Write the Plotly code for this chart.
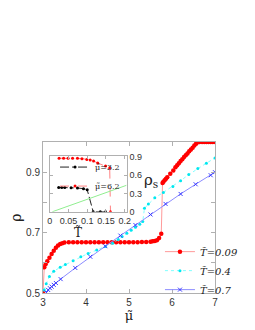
import plotly.graph_objects as go

# ---- main panel data: rho vs mu~ ----
mu_t009 = [3.00, 3.03, 3.06, 3.10, 3.15, 3.20, 3.25, 3.30, 3.35, 3.40, 3.45, 3.50,
           3.60, 3.70, 3.80, 3.90, 4.00, 4.10, 4.20, 4.30, 4.40, 4.50, 4.60, 4.70,
           4.80, 4.90, 5.00, 5.10, 5.20, 5.30, 5.40, 5.50, 5.55, 5.60, 5.65, 5.70, 5.75,
           5.78, 5.80, 5.83, 5.86, 5.89, 5.96, 6.03, 6.08, 6.12, 6.16, 6.20, 6.24,
           6.28, 6.32, 6.36, 6.40, 6.44, 6.48, 6.52, 6.56, 6.60, 6.64, 6.70, 6.75,
           6.80, 6.85, 6.90, 6.95, 7.00]
rho_t009 = [0.500, 0.585, 0.595, 0.605, 0.617, 0.629, 0.640, 0.650, 0.657, 0.662, 0.665, 0.667,
            0.668, 0.668, 0.668, 0.668, 0.668, 0.668, 0.668, 0.668, 0.668, 0.668, 0.668, 0.668,
            0.668, 0.668, 0.668, 0.668, 0.668, 0.669, 0.669, 0.670, 0.671, 0.672, 0.675, 0.682, 0.696,
            0.864, 0.868, 0.873, 0.878, 0.883, 0.895, 0.906, 0.916, 0.923, 0.930, 0.937, 0.943,
            0.950, 0.956, 0.962, 0.969, 0.975, 0.981, 0.988, 0.994, 0.999, 1.000, 1.000, 1.000,
            1.000, 1.000, 1.000, 1.000, 1.000]

mu_t04 = [3.03, 3.075, 3.15, 3.25, 3.40, 3.52, 3.70, 3.88, 4.05, 4.25, 4.45, 4.62, 4.75,
          4.84, 4.95, 5.05, 5.15, 5.25, 5.32, 5.36, 5.45, 5.60, 5.80, 6.02, 6.20, 6.39,
          6.60, 6.80, 7.00]
rho_t04 = [0.510, 0.531, 0.555, 0.572, 0.585, 0.594, 0.607, 0.620, 0.631, 0.642, 0.654, 0.665, 0.677,
           0.687, 0.698, 0.708, 0.718, 0.728, 0.737, 0.781, 0.795, 0.815, 0.833, 0.853, 0.872, 0.892,
           0.912, 0.930, 0.947]

mu_t07 = [3.08, 3.12, 3.16, 3.20, 3.25, 3.30, 3.41, 3.75, 4.10, 4.45, 4.80, 5.15, 5.50,
          5.85, 6.20, 6.55, 6.90, 7.00]
rho_t07 = [0.502, 0.510, 0.516, 0.521, 0.527, 0.533, 0.546, 0.583, 0.620, 0.655, 0.690, 0.725,
           0.760, 0.795, 0.828, 0.860, 0.890, 0.900]

# ---- inset data: rho_s vs T~ ----
T_mu62 = [0.025, 0.037, 0.049, 0.061, 0.074, 0.086, 0.099, 0.108, 0.117, 0.128, 0.149, 0.160, 0.162]
rs_mu62 = [0.880, 0.880, 0.880, 0.880, 0.878, 0.872, 0.860, 0.850, 0.835, 0.800, 0.750, 0.720, 0.0]

T_mu32 = [0.024, 0.032, 0.040, 0.057, 0.074, 0.090, 0.100, 0.116, 0.135, 0.149]
rs_mu32 = [0.400, 0.400, 0.398, 0.395, 0.390, 0.380, 0.360, 0.0, 0.0, 0.0]

T_kt = [0.007, 0.205]
rs_kt = [0.0, 0.435]

main_xticks = [3, 4, 5, 6, 7]
main_yticks = [0.5, 0.7, 0.9]
inset_xticks = [0, 0.05, 0.1, 0.15, 0.2]
inset_xticktext = ["0", "0.05", "0.1", "0.15", "0.2"]
inset_yticks = [0, 0.3, 0.6, 0.9]
inset_yticktext = ["0", "0.3", "0.6", "0.9"]

serif = "DejaVu Serif"
sans = "Liberation Sans"

fig = go.Figure()

fig.add_trace(go.Scatter(x=mu_t009, y=rho_t009, mode="lines+markers",
                         line=dict(color="#ff9a9a", width=1),
                         marker=dict(color="#ff0000", size=4.5, symbol="circle"),
                         name="<i>T\u0303=0.09</i>", legend="legend"))
fig.add_trace(go.Scatter(x=mu_t04, y=rho_t04, mode="lines+markers",
                         line=dict(color="#7fffff", width=1, dash="dot"),
                         marker=dict(color="#00e8f0", size=3, symbol="circle"),
                         name="<i>T\u0303=0.4</i>", legend="legend"))
fig.add_trace(go.Scatter(x=mu_t07, y=rho_t07, mode="lines+markers",
                         line=dict(color="#8c8cff", width=1),
                         marker=dict(color="#3c3cff", size=4, symbol="x-thin",
                                     line=dict(color="#3c3cff", width=1)),
                         name="<i>T\u0303=0.7</i>", legend="legend"))

fig.add_trace(go.Scatter(x=T_mu32, y=rs_mu32, mode="lines+markers", xaxis="x2", yaxis="y2",
                         line=dict(color="#222222", width=1, dash="dashdot"),
                         marker=dict(color="#000000", size=3),
                         name="\u03bc\u0303=3.2", legend="legend2"))
fig.add_trace(go.Scatter(x=T_mu62, y=rs_mu62, mode="lines+markers", xaxis="x2", yaxis="y2",
                         line=dict(color="#ff8080", width=1, dash="dash"),
                         marker=dict(color="#ff0000", size=3),
                         name="\u03bc\u0303=6.2", legend="legend2"))
fig.add_trace(go.Scatter(x=T_kt, y=rs_kt, mode="lines", xaxis="x2", yaxis="y2",
                         line=dict(color="#90ee90", width=1),
                         showlegend=False))

axis_common = dict(showline=True, linecolor="#b0b0b0", linewidth=1, mirror="ticks",
                   ticks="inside", ticklen=4, tickcolor="#b0b0b0", showgrid=False,
                   zeroline=False, automargin=False,
                   tickfont=dict(family=sans, size=10, color="#333333"))
inset_axis = {**axis_common, "tickfont": dict(family=sans, size=9, color="#333333"),
              "ticklen": 3}

# the page body adds an 8px offset, so the figure is a bit smaller than the window
fig.update_layout(
    width=247, height=322,
    margin=dict(l=35, r=31, t=134, b=37),
    paper_bgcolor="white", plot_bgcolor="white",
    xaxis=dict(range=[3, 7], tickvals=main_xticks, domain=[0, 1],
               title=dict(text="\u03bc\u0303", font=dict(family=serif, size=13, color="#222"),
                          standoff=0),
               **axis_common),
    yaxis=dict(range=[0.5, 1.0], tickvals=main_yticks, domain=[0, 1],
               minor=dict(ticks="inside", dtick=0.1, ticklen=4, tickcolor="#b0b0b0",
                          showgrid=False),
               title=dict(text="\u03c1", font=dict(family=serif, size=14, color="#222"),
                          standoff=6),
               **axis_common),
    xaxis2=dict(range=[0, 0.205], tickvals=inset_xticks, ticktext=inset_xticktext,
                domain=[0.039, 0.486], anchor="y2", **inset_axis),
    yaxis2=dict(range=[0, 0.91], tickvals=inset_yticks, ticktext=inset_yticktext,
                domain=[0.538, 0.905], anchor="x2", side="right", **inset_axis),
    legend=dict(x=0.68, y=0.37, xanchor="left", yanchor="top", bgcolor="rgba(0,0,0,0)",
                font=dict(family=serif, size=10, color="#222"), tracegroupgap=0,
                itemwidth=30),
    legend2=dict(x=0.07, y=0.93, xanchor="left", yanchor="top", bgcolor="rgba(0,0,0,0)",
                 font=dict(family=serif, size=8, color="#222"), tracegroupgap=0,
                 itemwidth=30),
    annotations=[
        dict(text="T\u0303", xref="paper", yref="paper", x=(74 - 43) / 181, y=(292.7 - 233) / 150,
             showarrow=False, font=dict(family=serif, size=12, color="#222")),
        dict(text="\u03c1<sub>s</sub>", xref="paper", yref="paper", x=(166 - 43) / 181,
             y=(292.7 - 170) / 150, showarrow=False,
             font=dict(family=serif, size=15, color="#222")),
    ],
)

fig.write_html("out.html")
